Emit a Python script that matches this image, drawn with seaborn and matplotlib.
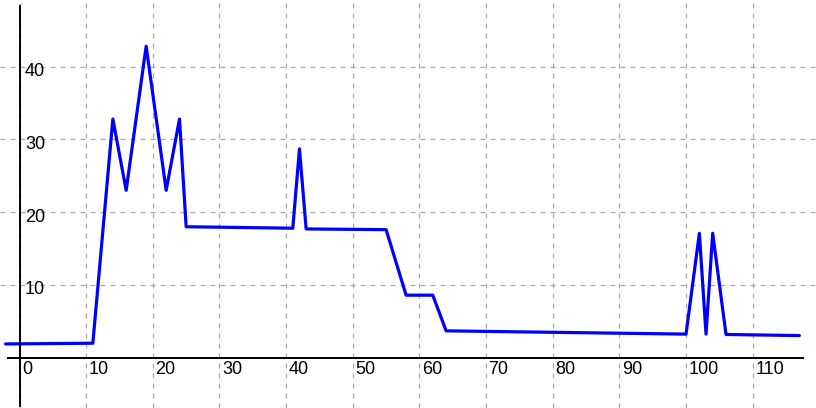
import matplotlib
matplotlib.use("Agg")
import matplotlib.pyplot as plt
import matplotlib.transforms as mtransforms
import seaborn as sns
import pandas as pd

# values
x_vals = [-2.1, 11, 14, 16, 19, 22, 24, 25, 41, 42, 43, 55, 58, 62, 64,
          100, 102, 103, 104, 106, 117]
y_vals = [1.9, 2.0, 32.8, 23.0, 42.8, 23.0, 32.8, 18.0, 17.8, 28.7, 17.7, 17.6,
          8.6, 8.6, 3.7, 3.25, 17.1, 3.25, 17.1, 3.2, 3.05]
x_ticks = [0, 10, 20, 30, 40, 50, 60, 70, 80, 90, 100, 110]
y_ticks = [10, 20, 30, 40]

df = pd.DataFrame({"x": x_vals, "y": y_vals})

sns.set_style("white")
plt.rcParams["font.family"] = ["Liberation Sans", "DejaVu Sans"]

fig = plt.figure(figsize=(8.16, 4.08), dpi=100)
ax = fig.add_axes([0, 0, 1, 1])

sns.lineplot(data=df, x="x", y="y", ax=ax, color="#0000ff", linewidth=2.3,
             sort=False, estimator=None)

ax.set_xlim(-2.93, 119.5)
ax.set_ylim(-6.9, 49.15)
ax.set_xlabel("")
ax.set_ylabel("")

# spines crossing at the origin
for s in ["top", "right"]:
    ax.spines[s].set_visible(False)
ax.spines["left"].set_position(("data", 0))
ax.spines["bottom"].set_position(("data", 0))
ax.spines["left"].set_bounds(-6.6, 48.3)
ax.spines["bottom"].set_bounds(-1.7, 117.6)
for s in ["left", "bottom"]:
    ax.spines[s].set_color("black")
    ax.spines[s].set_linewidth(1.4)
    ax.spines[s].set_zorder(3)

ax.set_xticks(x_ticks)
ax.set_yticks(y_ticks)
ax.grid(True, color="#a8a8a8", linestyle=(0, (4, 4)), linewidth=0.9)
ax.set_axisbelow(True)

ax.tick_params(axis="both", length=0, labelsize=13, labelcolor="black")
ax.tick_params(axis="x", pad=2)
ax.tick_params(axis="y", pad=-4)

dx = mtransforms.ScaledTranslation(2.5 / 100, 0, fig.dpi_scale_trans)
for lab in ax.get_xticklabels():
    lab.set_horizontalalignment("left")
    lab.set_transform(lab.get_transform() + dx)

dy = mtransforms.ScaledTranslation(0, -3.0 / 100, fig.dpi_scale_trans)
for lab in ax.get_yticklabels():
    lab.set_horizontalalignment("left")
    lab.set_transform(lab.get_transform() + dy)

fig.savefig("out.png", dpi=100)
